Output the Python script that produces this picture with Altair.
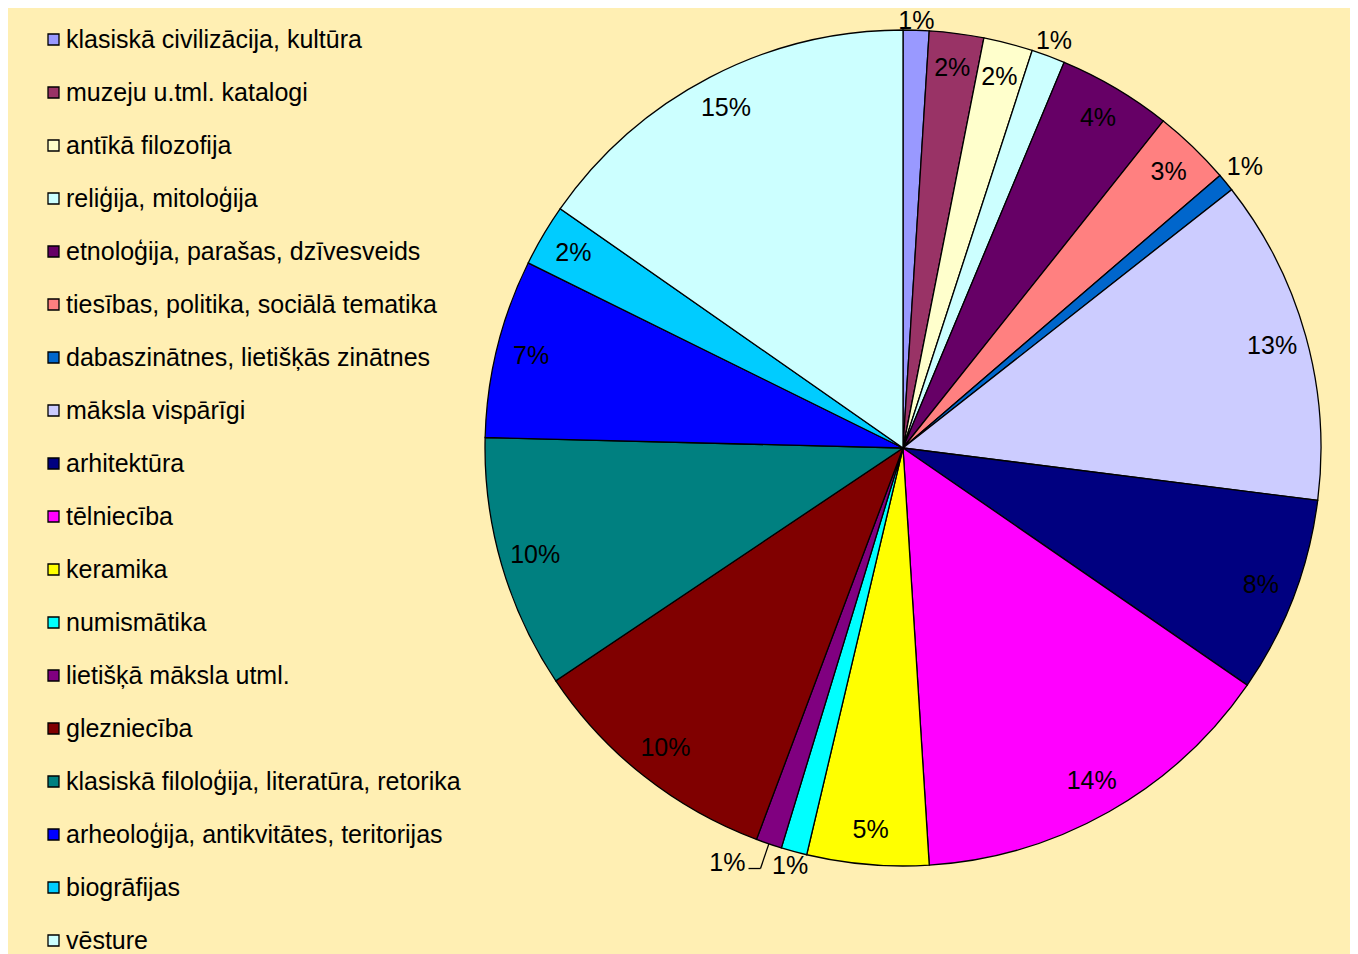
import altair as alt
import pandas as pd

categories = [
    "klasiskā civilizācija, kultūra",
    "muzeju u.tml. katalogi",
    "antīkā filozofija",
    "reliģija, mitoloģija",
    "etnoloģija, parašas, dzīvesveids",
    "tiesības, politika, sociālā tematika",
    "dabaszinātnes, lietišķās zinātnes",
    "māksla vispārīgi",
    "arhitektūra",
    "tēlniecība",
    "keramika",
    "numismātika",
    "lietišķā māksla utml.",
    "glezniecība",
    "klasiskā filoloģija, literatūra, retorika",
    "arheoloģija, antikvitātes, teritorijas",
    "biogrāfijas",
    "vēsture",
]
values = [1.0, 2.1, 1.9, 1.3, 4.4, 3.0, 0.7, 12.6, 7.6, 14.4, 4.7, 1.0, 1.0, 9.9, 9.8, 6.9, 2.4, 15.3]
colors = [
    "#9999FF", "#993366", "#FFFFCC", "#CCFFFF", "#660066", "#FF8080",
    "#0066CC", "#CCCCFF", "#000080", "#FF00FF", "#FFFF00", "#00FFFF",
    "#800080", "#800000", "#008080", "#0000FF", "#00CCFF", "#CCFFFF",
]

df = pd.DataFrame({"cat": categories, "value": values, "idx": list(range(len(categories)))})

CX, CY, R = 895, 440, 418
FONT = "Liberation Sans"
SMALL = 0.015

base = (
    alt.Chart(df)
    .transform_joinaggregate(total="sum(value)")
    .transform_window(cum="sum(value)", sort=[alt.SortField("idx")], frame=[None, 0])
    .transform_window(
        window=[alt.WindowFieldDef(op="lag", field="value", param=1, **{"as": "prev"})],
        sort=[alt.SortField("idx")],
    )
    .transform_calculate(
        pct="datum.value / datum.total",
        a="2 * PI * (datum.cum - datum.value / 2) / datum.total",
    )
    .transform_calculate(
        small=f"datum.pct < {SMALL}",
        displaced=f"datum.pct < {SMALL} && datum.prev != null && datum.prev / datum.total < {SMALL}",
    )
    .transform_calculate(
        lr=f"datum.small ? {R} + 5 + abs(sin(datum.a)) * 22 + abs(cos(datum.a)) * 4 : {R - 35}",
    )
    .transform_calculate(
        lx=f"{CX} + datum.lr * sin(datum.a)",
        ly=f"{CY} - datum.lr * cos(datum.a)",
        ax=f"{CX} + {R} * sin(datum.a)",
        ay=f"{CY} - {R} * cos(datum.a)",
        bx=f"{CX} + {R + 26} * sin(datum.a)",
        by=f"{CY} - {R + 26} * cos(datum.a)",
    )
    .transform_calculate(cx="datum.bx - 12")
)

arcs = base.mark_arc(outerRadius=R, stroke="black", strokeWidth=1.3).encode(
    theta=alt.Theta("value:Q", stack=True),
    color=alt.Color(
        "cat:N",
        sort=None,
        scale=alt.Scale(domain=categories, range=colors),
        legend=alt.Legend(
            title=None,
            orient="none",
            legendX=33,
            legendY=19,
            symbolType="square",
            symbolSize=121,
            symbolStrokeColor="black",
            symbolStrokeWidth=1.3,
            labelFont=FONT,
            labelFontSize=25,
            labelColor="black",
            labelLimit=700,
            labelOffset=0,
            rowPadding=27,
            padding=0,
        ),
    ),
    order=alt.Order("idx:Q"),
    x=alt.value(CX),
    y=alt.value(CY),
)

labels = base.transform_filter("!datum.displaced").mark_text(
    font=FONT, fontSize=25, color="black", baseline="middle", align="center"
).encode(
    x=alt.X("lx:Q", scale=None),
    y=alt.Y("ly:Q", scale=None),
    text=alt.Text("pct:Q", format=".0%"),
)

moved_labels = base.transform_filter("datum.displaced").mark_text(
    font=FONT, fontSize=25, color="black", baseline="middle", align="right", dx=-3, dy=-6
).encode(
    x=alt.X("cx:Q", scale=None),
    y=alt.Y("by:Q", scale=None),
    text=alt.Text("pct:Q", format=".0%"),
)

leader1 = base.transform_filter("datum.displaced").mark_rule(color="black", strokeWidth=1.3).encode(
    x=alt.X("ax:Q", scale=None),
    y=alt.Y("ay:Q", scale=None),
    x2="bx:Q",
    y2="by:Q",
)

leader2 = base.transform_filter("datum.displaced").mark_rule(color="black", strokeWidth=1.3).encode(
    x=alt.X("bx:Q", scale=None),
    y=alt.Y("by:Q", scale=None),
    x2="cx:Q",
    y2="by:Q",
)

chart = alt.layer(arcs, leader1, leader2, labels, moved_labels).properties(
    width=1342,
    height=946,
    autosize=alt.AutoSizeParams(type="none"),
    padding=0,
    background="#FFEFB3",
).configure_view(stroke=None)

chart.save("out.html", embed_options={"renderer": "svg", "actions": False})
